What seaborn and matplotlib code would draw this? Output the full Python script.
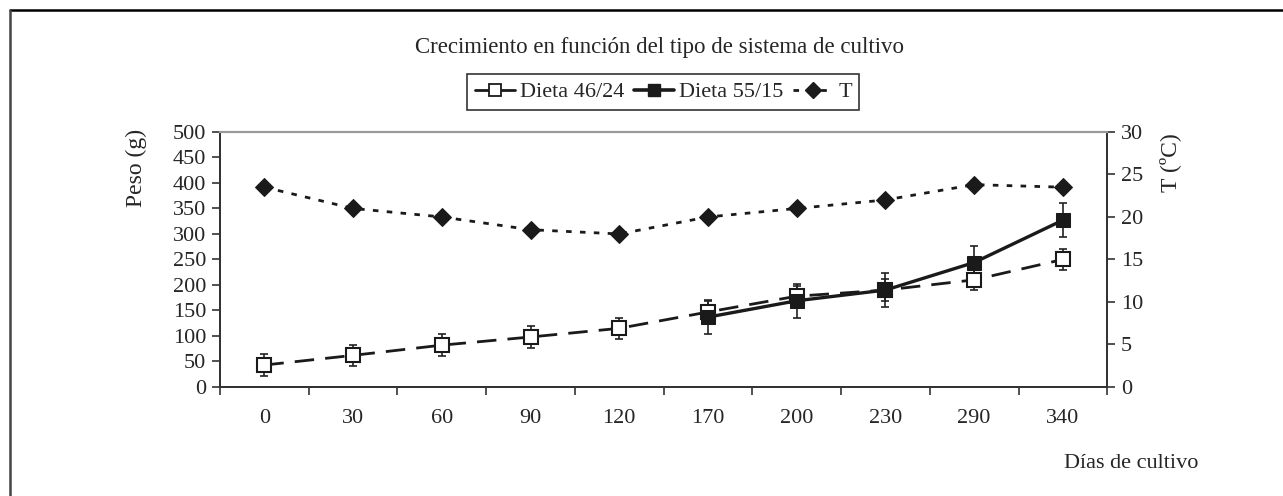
import numpy as np
import pandas as pd
import matplotlib
matplotlib.use("Agg")
import matplotlib.pyplot as plt
import seaborn as sns
from matplotlib.lines import Line2D

# Datos
dias = ["0", "30", "60", "90", "120", "170", "200", "230", "290", "340"]
peso_46_24 = [43, 62, 82, 98, 115, 147, 178, 190, 210, 250]
err_46_24 = [21, 21, 21, 21, 21, 22, 20, 22, 20, 21]
dias_55_15 = ["170", "200", "230", "290", "340"]
peso_55_15 = [137, 169, 190, 244, 327]
err_55_15 = [33, 33, 33, 33, 33]
temperatura = [23.5, 21.0, 20.0, 18.5, 18.0, 20.0, 21.0, 22.0, 23.8, 23.5]

pos = {d: i for i, d in enumerate(dias)}
df46 = pd.DataFrame({"x": [pos[d] for d in dias], "peso": peso_46_24, "err": err_46_24})
df55 = pd.DataFrame({"x": [pos[d] for d in dias_55_15], "peso": peso_55_15, "err": err_55_15})
dft = pd.DataFrame({"x": [pos[d] for d in dias], "T": temperatura})

sns.set_style("white")
plt.rcParams["font.family"] = ["Liberation Serif", "DejaVu Serif"]
plt.rcParams["font.size"] = 16

fig = plt.figure(figsize=(12.83, 4.96), dpi=100)
ax = fig.add_axes([0.1715, 0.2198, 0.6915, 0.5142])
ax2 = ax.twinx()

# Barras de error
ax.errorbar(df46["x"], df46["peso"], yerr=df46["err"], fmt="none",
            ecolor="#222222", elinewidth=1.2, capsize=2.6, capthick=1.2, zorder=2)
ax.errorbar(df55["x"], df55["peso"], yerr=df55["err"], fmt="none",
            ecolor="#222222", elinewidth=1.2, capsize=2.6, capthick=1.2, zorder=2)

sns.lineplot(data=df46, x="x", y="peso", ax=ax, color="#1a1a1a", lw=2,
             dashes=False, linestyle=(0, (7, 4)), marker="s", markersize=10,
             markerfacecolor="white", markeredgecolor="#1a1a1a",
             markeredgewidth=1.5, zorder=3)
sns.lineplot(data=df55, x="x", y="peso", ax=ax, color="#1a1a1a", lw=2.4,
             marker="s", markersize=10.5, markerfacecolor="#1a1a1a",
             markeredgecolor="#1a1a1a", zorder=4)
sns.lineplot(data=dft, x="x", y="T", ax=ax2, color="#1a1a1a", lw=2,
             linestyle=(0, (2, 3)), marker="D", markersize=9,
             markerfacecolor="#1a1a1a", markeredgecolor="#1a1a1a", zorder=3)

# Ejes
ax.set_xlim(-0.5, 9.5)
ax.set_ylim(0, 500)
ax2.set_ylim(0, 30)
ax.set_yticks(np.arange(0, 501, 50))
ax2.set_yticks(np.arange(0, 31, 5))
ax.set_xticks(np.arange(-0.5, 10, 1))
ax.set_xticklabels([])
ax.set_xticks(range(len(dias)), minor=True)
ax.set_xticklabels(dias, minor=True)
ax.tick_params(axis="x", which="major", direction="out", length=6, width=1.2,
               color="#333333", bottom=True)
ax.tick_params(axis="x", which="minor", length=0, pad=16, labelsize=16)
ax.tick_params(axis="y", direction="out", length=6, width=1.2, color="#333333",
               left=True, labelsize=16, pad=4)
ax2.tick_params(axis="y", direction="out", length=6, width=1.2, color="#333333",
                right=True, labelsize=16, pad=4)
ax.set_xlabel("")
ax.set_ylabel("Peso (g)", fontsize=17)
ax2.set_ylabel("T (ºC)", fontsize=17)
ax.yaxis.set_label_coords(-0.082, 0.86)
ax2.yaxis.set_label_coords(1.058, 0.88)

for a in (ax, ax2):
    for s in ("left", "bottom", "right"):
        a.spines[s].set_color("#333333")
        a.spines[s].set_linewidth(1.3)
    a.spines["top"].set_color("#999999")
    a.spines["top"].set_linewidth(1.5)

fig.text(0.514, 0.905, "Crecimiento en función del tipo de sistema de cultivo",
         ha="center", va="center", fontsize=16.5)
fig.text(0.934, 0.066, "Días de cultivo", ha="right", va="center", fontsize=16)

# Leyenda
handles = [
    Line2D([], [], color="#1a1a1a", lw=2, marker="s", markersize=8,
           markerfacecolor="white", markeredgewidth=1.3),
    Line2D([], [], color="#1a1a1a", lw=2.6, marker="s", markersize=9,
           markerfacecolor="#1a1a1a"),
    Line2D([], [], color="#1a1a1a", lw=2, linestyle=(0, (2, 3)), marker="D",
           markersize=8, markerfacecolor="#1a1a1a"),
]
leg = fig.legend(handles, ["Dieta 46/24", "Dieta 55/15", "T"], ncol=3,
                 loc="center", bbox_to_anchor=(0.517, 0.8145), frameon=True,
                 fancybox=False, edgecolor="black", fontsize=16,
                 handlelength=1.8, handletextpad=0.25, columnspacing=0.4,
                 borderpad=0.35, borderaxespad=0)
leg.get_frame().set_linewidth(1.2)

# Borde de la figura (solo arriba e izquierda visibles)
fig.add_artist(Line2D([10 / 1283, 1], [1 - 10 / 496, 1 - 10 / 496],
                      color="black", lw=1.8, transform=fig.transFigure))
fig.add_artist(Line2D([10 / 1283, 10 / 1283], [0, 1 - 10 / 496],
                      color="#444444", lw=1.8, transform=fig.transFigure))

fig.savefig("out.png", dpi=100)
